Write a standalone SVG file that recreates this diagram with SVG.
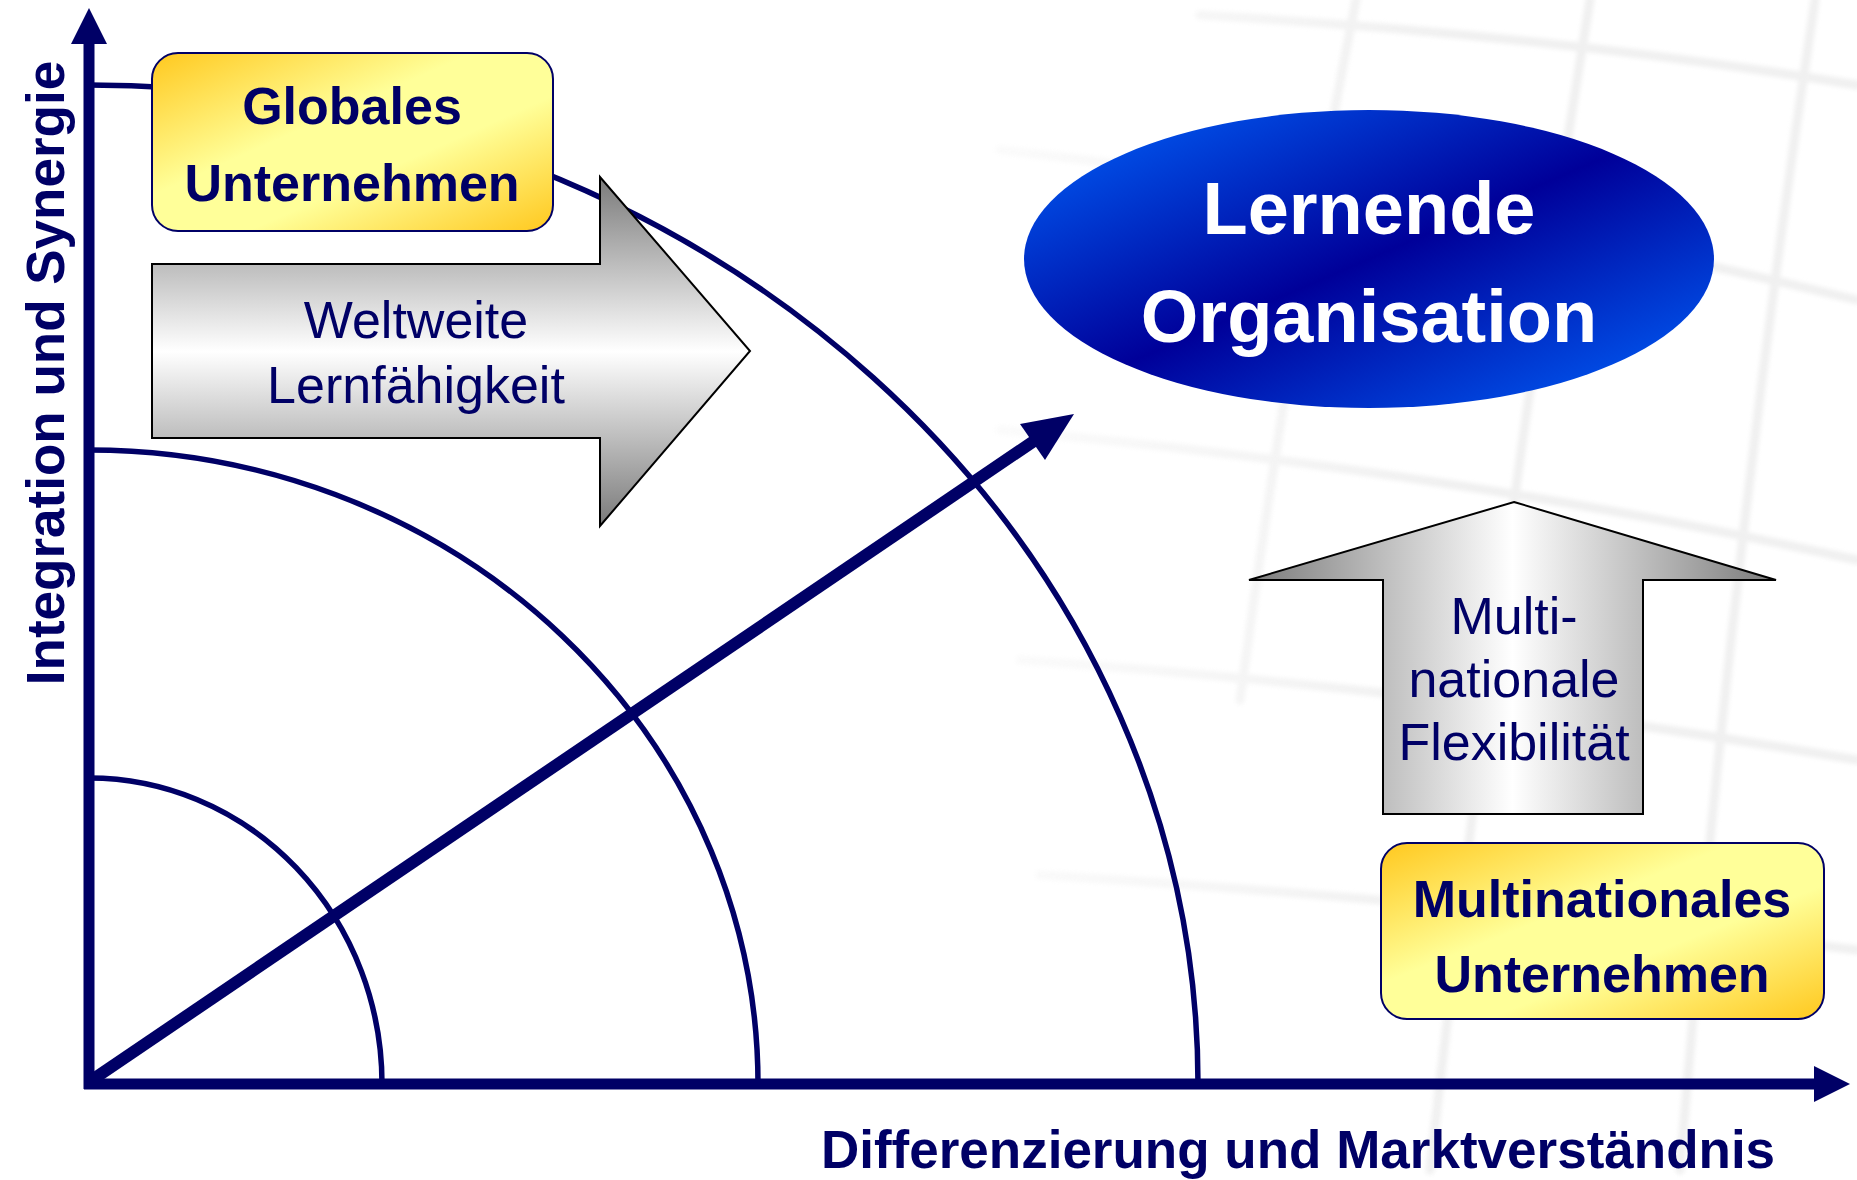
<svg xmlns="http://www.w3.org/2000/svg" width="1857" height="1180" viewBox="0 0 1857 1180">
  <style>
    .navy { fill: #000066; }
    .ax { stroke: #000066; stroke-width: 11; fill: none; }
    .arc { stroke: #000066; stroke-width: 5.5; fill: none; }
    .bold { font-family: "Liberation Sans", Arial, sans-serif; font-weight: bold; }
    .reg { font-family: "Liberation Sans", Arial, sans-serif; }
    .grid { stroke: #ebebeb; stroke-width: 9; fill: none; stroke-linecap: round; }
  </style>
  <defs>
    <linearGradient id="gold" x1="0" y1="0" x2="1" y2="1">
      <stop offset="0" stop-color="#FFC81E"/>
      <stop offset="0.4" stop-color="#FFFF99"/>
      <stop offset="0.62" stop-color="#FFFF99"/>
      <stop offset="1" stop-color="#FFC81E"/>
    </linearGradient>
    <linearGradient id="blue" x1="0" y1="0" x2="1" y2="1">
      <stop offset="0" stop-color="#0066FF"/>
      <stop offset="0.5" stop-color="#000099"/>
      <stop offset="1" stop-color="#0066FF"/>
    </linearGradient>
    <linearGradient id="grayV" x1="0" y1="0" x2="0" y2="1">
      <stop offset="0" stop-color="#7a7a7a"/>
      <stop offset="0.5" stop-color="#ffffff"/>
      <stop offset="1" stop-color="#7a7a7a"/>
    </linearGradient>
    <linearGradient id="grayH" x1="0" y1="0" x2="1" y2="0">
      <stop offset="0" stop-color="#7a7a7a"/>
      <stop offset="0.5" stop-color="#ffffff"/>
      <stop offset="1" stop-color="#7a7a7a"/>
    </linearGradient>
    <linearGradient id="fadeG" x1="0" y1="0" x2="1" y2="0">
      <stop offset="0.45" stop-color="#fff" stop-opacity="0"/>
      <stop offset="0.78" stop-color="#fff" stop-opacity="1"/>
    </linearGradient>
    <mask id="fade" maskUnits="userSpaceOnUse" x="0" y="0" width="1857" height="1180">
      <rect x="0" y="0" width="1857" height="1180" fill="url(#fadeG)"/>
    </mask>
    <filter id="soft" x="-5%" y="-5%" width="110%" height="110%">
      <feGaussianBlur stdDeviation="2"/>
    </filter>
  </defs>

  <rect x="0" y="0" width="1857" height="1180" fill="#ffffff"/>

  <g id="background-grid" mask="url(#fade)" filter="url(#soft)" opacity="0.75">
    <path class="grid" d="M1200 15 Q1550 35 1857 85"/>
    <path class="grid" d="M1000 150 Q1450 200 1857 300"/>
    <path class="grid" d="M1000 430 Q1450 470 1857 560"/>
    <path class="grid" d="M1020 660 Q1450 690 1857 760"/>
    <path class="grid" d="M1040 875 Q1450 900 1857 950"/>
    <path class="grid" d="M1356 0 Q1290 330 1240 700"/>
    <path class="grid" d="M1590 0 Q1500 550 1430 1170"/>
    <path class="grid" d="M1815 0 Q1730 560 1680 1170"/>
  </g>

  <g id="connectors">
    <path class="arc" d="M89 778 A293 306 0 0 1 382 1084"/>
    <path class="arc" d="M89 450 A669 634 0 0 1 758 1084"/>
    <path class="arc" d="M89 85 A1109 999 0 0 1 1198 1084"/>
    <line class="ax" x1="89" y1="1089" x2="89" y2="40"/>
    <polygon class="navy" points="89,8 71,44 107,44"/>
    <line class="ax" x1="84" y1="1084" x2="1816" y2="1084"/>
    <polygon class="navy" points="1850,1084 1814,1066 1814,1102"/>
    <line x1="92" y1="1080" x2="1034" y2="441" stroke="#000066" stroke-width="12"/>
    <polygon class="navy" points="1074,414 1045,460 1020,424"/>
  </g>

  <g id="globales">
    <rect x="152" y="53" width="401" height="178" rx="26" fill="url(#gold)" stroke="#000066" stroke-width="2"/>
    <text class="bold navy" x="352" y="124" font-size="52" text-anchor="middle">Globales</text>
    <text class="bold navy" x="352" y="201" font-size="52" text-anchor="middle">Unternehmen</text>
  </g>

  <g id="weltweite">
    <polygon points="152,264 600,264 600,177 750,351 600,526 600,438 152,438" fill="url(#grayV)" stroke="#000" stroke-width="2"/>
    <text class="reg navy" x="416" y="338" font-size="52" text-anchor="middle">Weltweite</text>
    <text class="reg navy" x="416" y="403" font-size="52" text-anchor="middle">Lernfähigkeit</text>
  </g>

  <g id="lernende">
    <ellipse cx="1369" cy="259" rx="345" ry="149" fill="url(#blue)"/>
    <text class="bold" fill="#ffffff" x="1369" y="234" font-size="74" text-anchor="middle">Lernende</text>
    <text class="bold" fill="#ffffff" x="1369" y="342" font-size="74" text-anchor="middle">Organisation</text>
  </g>

  <g id="multinationale-flex">
    <polygon points="1514,502 1776,580 1643,580 1643,814 1383,814 1383,580 1249,580" fill="url(#grayH)" stroke="#000" stroke-width="2"/>
    <text class="reg navy" x="1514" y="634" font-size="52" text-anchor="middle">Multi-</text>
    <text class="reg navy" x="1514" y="697" font-size="52" text-anchor="middle">nationale</text>
    <text class="reg navy" x="1514" y="760" font-size="52" text-anchor="middle">Flexibilität</text>
  </g>

  <g id="multinationales">
    <rect x="1381" y="843" width="443" height="176" rx="26" fill="url(#gold)" stroke="#000066" stroke-width="2"/>
    <text class="bold navy" x="1602" y="917" font-size="52" text-anchor="middle">Multinationales</text>
    <text class="bold navy" x="1602" y="992" font-size="52" text-anchor="middle">Unternehmen</text>
  </g>

  <g id="axis-labels">
    <text class="bold navy" x="1298" y="1168" font-size="53" text-anchor="middle">Differenzierung und Marktverständnis</text>
    <text class="bold navy" transform="translate(64,373) rotate(-90)" font-size="53" text-anchor="middle">Integration und Synergie</text>
  </g>
</svg>
